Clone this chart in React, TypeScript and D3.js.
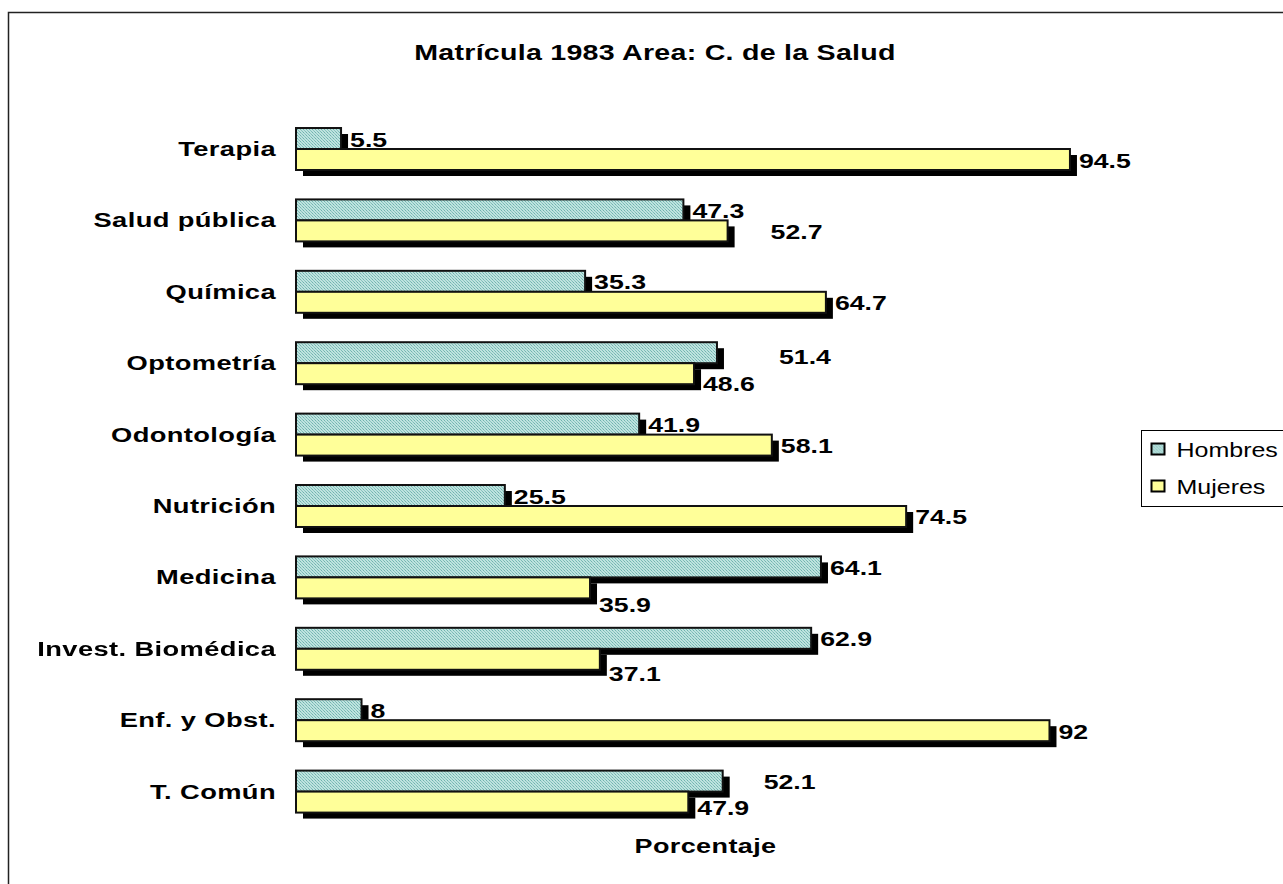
import React, { useEffect, useRef } from "react";
import * as d3 from "d3";

// categories from top to bottom, as in the chart
const categories = [
  "Terapia",
  "Salud pública",
  "Química",
  "Optometría",
  "Odontología",
  "Nutrición",
  "Medicina",
  "Invest. Biomédica",
  "Enf. y Obst.",
  "T. Común",
];
const seriesNames = ["Hombres", "Mujeres"];
const hombres = [5.5, 47.3, 35.3, 51.4, 41.9, 25.5, 64.1, 62.9, 8, 52.1];
const mujeres = [94.5, 52.7, 64.7, 48.6, 58.1, 74.5, 35.9, 37.1, 92, 47.9];

const title = "Matrícula 1983 Area: C. de la Salud";
const axisTitle = "Porcentaje";

export default function App() {
  const svgRef = useRef<SVGSVGElement>(null);

  useEffect(() => {
    const width = 1283;
    const height = 884;
    const svg = d3.select(svgRef.current).attr("width", width).attr("height", height);
    svg.selectAll("*").remove();

    const font = "Arial, 'Liberation Sans', sans-serif";
    // the old Excel text is wide, so glyphs get stretched horizontally
    const tr = (tx: number, ty: number, sx: number) => `translate(${tx},${ty}) scale(${sx},1)`;

    const defs = svg.append("defs");
    const pat = defs.append("pattern")
      .attr("id", "dots")
      .attr("width", 3)
      .attr("height", 3)
      .attr("patternUnits", "userSpaceOnUse");
    pat.append("rect").attr("width", 3).attr("height", 3).attr("fill", "#bfe3df");
    pat.append("rect").attr("x", 0).attr("y", 0).attr("width", 1).attr("height", 1).attr("fill", "#6fb3ae");
    pat.append("rect").attr("x", 1).attr("y", 1).attr("width", 1).attr("height", 1).attr("fill", "#8cc6c1");
    pat.append("rect").attr("x", 2).attr("y", 2).attr("width", 1).attr("height", 1).attr("fill", "#7dbdb8");

    const fills: Record<string, string> = { Hombres: "url(#dots)", Mujeres: "#ffff99" };

    // outer chart border
    svg.append("rect")
      .attr("x", 8.5).attr("y", 12.5)
      .attr("width", 1300).attr("height", 900)
      .attr("fill", "#fff")
      .attr("stroke", "#222")
      .attr("stroke-width", 1.5);

    const x = d3.scaleLinear().domain([0, 100]).range([296, 1115]);
    const y = d3.scaleBand<string>()
      .domain(categories)
      .range([98.6, 842])
      .padding(0.412);
    const inner = d3.scaleBand<string>()
      .domain(seriesNames)
      .range([0, y.bandwidth()]);

    const rows = categories.map((c, i) => ({ cat: c, Hombres: hombres[i], Mujeres: mujeres[i] }));
    const bars = rows.flatMap(r => seriesNames.map(s => ({ cat: r.cat, series: s, value: (r as any)[s] as number })));

    // shadows first
    svg.append("g").selectAll("rect")
      .data(bars)
      .join("rect")
      .attr("x", x(0) + 7)
      .attr("y", d => (y(d.cat) as number) + (inner(d.series) as number) + 6)
      .attr("width", d => x(d.value) - x(0))
      .attr("height", inner.bandwidth())
      .attr("fill", "#000");

    svg.append("g").selectAll("rect")
      .data(bars)
      .join("rect")
      .attr("x", x(0))
      .attr("y", d => (y(d.cat) as number) + (inner(d.series) as number))
      .attr("width", d => x(d.value) - x(0))
      .attr("height", inner.bandwidth())
      .attr("fill", d => fills[d.series])
      .attr("stroke", "#111")
      .attr("stroke-width", 2);

    // a few labels that Excel pushed aside
    const labelShift: Record<string, [number, number]> = {
      "Salud pública|Mujeres": [34, 0],
      "Optometría|Hombres": [53, 3],
      "Optometría|Mujeres": [0, 9],
      "Medicina|Mujeres": [0, 16],
      "Invest. Biomédica|Mujeres": [0, 14],
      "T. Común|Hombres": [32, 0],
      "T. Común|Mujeres": [0, 5],
    };

    svg.append("g").selectAll("text")
      .data(bars)
      .join("text")
      .attr("transform", d => {
        const sh = labelShift[d.cat + "|" + d.series] ?? [0, 0];
        const tx = x(d.value) + 9 + sh[0];
        const ty = (y(d.cat) as number) + (inner(d.series) as number) + inner.bandwidth() / 2 + 8 + sh[1];
        return tr(tx, ty, 1.27);
      })
      .attr("font-family", font)
      .attr("font-weight", "bold")
      .attr("font-size", 21)
      .attr("fill", "#000")
      .text(d => String(d.value));

    // category labels
    svg.append("g").selectAll("text")
      .data(categories)
      .join("text")
      .attr("transform", d => tr(276, (y(d) as number) + y.bandwidth() / 2 + 7, 1.3))
      .attr("text-anchor", "end")
      .attr("font-family", font)
      .attr("font-weight", "bold")
      .attr("font-size", 21)
      .attr("letter-spacing", 0.3)
      .attr("fill", "#000")
      .text(d => d);

    svg.append("text")
      .attr("transform", tr(655, 60, 1.3))
      .attr("text-anchor", "middle")
      .attr("font-family", font)
      .attr("font-weight", "bold")
      .attr("font-size", 22)
      .attr("letter-spacing", 0.2)
      .text(title);

    svg.append("text")
      .attr("transform", tr((x(0) + x(100)) / 2, 853, 1.35))
      .attr("text-anchor", "middle")
      .attr("font-family", font)
      .attr("font-weight", "bold")
      .attr("font-size", 20)
      .attr("letter-spacing", 0.3)
      .text(axisTitle);

    // legend
    const lg = svg.append("g").attr("transform", "translate(1141.5,430.5)");
    lg.append("rect")
      .attr("width", 160).attr("height", 76)
      .attr("fill", "#fff").attr("stroke", "#000").attr("stroke-width", 1);
    seriesNames.forEach((s, i) => {
      const g = lg.append("g").attr("transform", `translate(0,${19 + i * 37})`);
      g.append("rect")
        .attr("x", 10).attr("y", -6).attr("width", 13).attr("height", 11)
        .attr("fill", fills[s]).attr("stroke", "#000").attr("stroke-width", 2);
      g.append("text")
        .attr("transform", tr(35, 7, 1.25))
        .attr("font-family", font)
        .attr("font-size", 20)
        .text(s);
    });
  }, []);

  return <svg ref={svgRef} style={{ position: "fixed", top: 0, left: 0 }} />;
}
